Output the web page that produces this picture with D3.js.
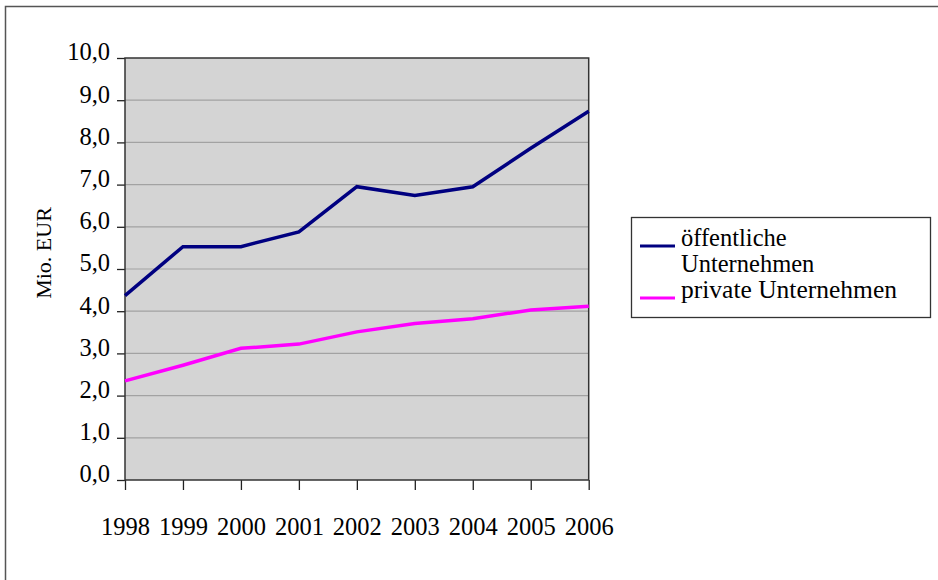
<!DOCTYPE html>
<html>
<head>
<meta charset="utf-8">
<script src="https://cdn.jsdelivr.net/npm/d3@7"></script>
<style>
  body { margin: 0; background: #fff; }
  text { font-family: "Liberation Serif", "Times New Roman", serif; fill: #000; }
</style>
</head>
<body>
<div id="main"></div>
<script>
var width = 938;
var height = 580;
var plot = {l: 125, t: 58, r: 588.7, b: 480};

var years = ['1998', '1999', '2000', '2001', '2002', '2003', '2004', '2005', '2006'];
var oeffentliche = [4.37, 5.53, 5.53, 5.88, 6.95, 6.74, 6.95, 7.86, 8.74];
var private_ = [2.35, 2.72, 3.12, 3.22, 3.51, 3.71, 3.82, 4.03, 4.12];
var yTicks = [0, 1, 2, 3, 4, 5, 6, 7, 8, 9, 10];

var seriesColors = ['#000080', '#ff00ff'];

var svg = d3.select('#main').append('svg')
    .attr('width', width)
    .attr('height', height);

// outer frame (only left and top edges visible)
svg.append('rect')
    .attr('x', 5.5).attr('y', 6.5)
    .attr('width', 1200).attr('height', 1200)
    .attr('fill', 'none')
    .attr('stroke', '#555')
    .attr('stroke-width', 1.5);

var xScale = d3.scalePoint().domain(years).range([plot.l, plot.r]);
var yScale = d3.scaleLinear().domain([0, 10]).range([plot.b, plot.t]);

// plot background
svg.append('rect')
    .attr('x', plot.l).attr('y', plot.t)
    .attr('width', plot.r - plot.l).attr('height', plot.b - plot.t)
    .attr('fill', '#d4d4d4');

// gridlines
svg.selectAll('.grid')
    .data(yTicks.filter(function(d) { return d > 0 && d < 10; }))
    .enter().append('line')
    .attr('class', 'grid')
    .attr('x1', plot.l).attr('x2', plot.r)
    .attr('y1', function(d) { return yScale(d); })
    .attr('y2', function(d) { return yScale(d); })
    .attr('stroke', '#a2a2a2')
    .attr('stroke-width', 1.2);

// y axis
var yAxis = d3.axisLeft(yScale)
    .tickValues(yTicks)
    .tickSize(8)
    .tickPadding(7)
    .tickFormat(function(d) { return d3.format('.1f')(d).replace('.', ','); });

var yG = svg.append('g')
    .attr('transform', 'translate(' + plot.l + ',0)')
    .call(yAxis);
yG.select('.domain').remove();
yG.selectAll('line').attr('stroke', '#222').attr('stroke-width', 1.3);
yG.selectAll('text')
    .attr('font-size', 24.5)
    .attr('dy', '0.08em');

// x axis
var xAxis = d3.axisBottom(xScale)
    .tickSize(10)
    .tickPadding(28);

var xG = svg.append('g')
    .attr('transform', 'translate(0,' + plot.b + ')')
    .call(xAxis);
xG.select('.domain').remove();
xG.selectAll('line').attr('stroke', '#222').attr('stroke-width', 1.3);
xG.selectAll('text')
    .attr('font-size', 24.5);

// plot frame
svg.append('rect')
    .attr('x', plot.l).attr('y', plot.t)
    .attr('width', plot.r - plot.l).attr('height', plot.b - plot.t)
    .attr('fill', 'none')
    .attr('stroke', '#333')
    .attr('stroke-width', 1.5);

// lines
var line = d3.line()
    .x(function(d, i) { return xScale(years[i]); })
    .y(function(d) { return yScale(d); });

[oeffentliche, private_].forEach(function(vals, k) {
    svg.append('path')
        .datum(vals)
        .attr('d', line)
        .attr('fill', 'none')
        .attr('stroke', seriesColors[k])
        .attr('stroke-width', 3.5);
});

// y axis title
svg.append('text')
    .attr('transform', 'translate(51,253) rotate(-90)')
    .attr('text-anchor', 'middle')
    .attr('font-size', 22)
    .text('Mio. EUR');

// legend
var legend = svg.append('g');
legend.append('rect')
    .attr('x', 631.5).attr('y', 217.5)
    .attr('width', 299).attr('height', 100)
    .attr('fill', '#fff')
    .attr('stroke', '#333')
    .attr('stroke-width', 1.3);

var legendRows = [
    {lines: ['öffentliche', 'Unternehmen'], y: 246},
    {lines: ['private Unternehmen'], y: 298}
];
legendRows.forEach(function(row, k) {
    legend.append('line')
        .attr('x1', 640).attr('x2', 675)
        .attr('y1', row.y).attr('y2', row.y)
        .attr('stroke', seriesColors[k])
        .attr('stroke-width', 3);
    var t = legend.append('text')
        .attr('x', 681)
        .attr('y', row.y)
        .attr('font-size', k === 0 ? 24.5 : 25.5);
    row.lines.forEach(function(s, j) {
        t.append('tspan')
            .attr('x', 681)
            .attr('dy', j === 0 ? 0 : 26)
            .text(s);
    });
});
</script>
</body>
</html>
